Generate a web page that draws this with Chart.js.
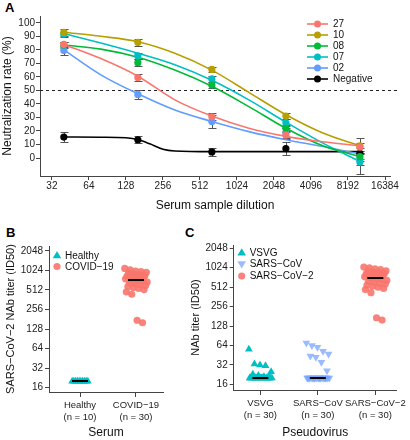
<!DOCTYPE html>
<html>
<head>
<meta charset="utf-8">
<script src="https://cdn.jsdelivr.net/npm/chart.js@4.4.1/dist/chart.umd.min.js"></script>
<style>
  body { margin: 0; background: #fff; width: 410px; height: 440px; position: relative; overflow: hidden; font-family: "Liberation Sans", Arial, sans-serif; }
  canvas { position: absolute; }
  .tag { position: absolute; font-weight: bold; font-size: 13px; line-height: 13px; color: #000; }
</style>
</head>
<body>
<div class="tag" style="left:5px;top:1px">A</div>
<div class="tag" style="left:6px;top:226px">B</div>
<div class="tag" style="left:185px;top:226px">C</div>
<canvas id="chartA" width="410" height="220" style="left:0;top:0"></canvas>
<canvas id="chartB" width="185" height="220" style="left:0;top:220px"></canvas>
<canvas id="chartC" width="225" height="220" style="left:185px;top:220px"></canvas>
<script>
// panel A: neutralization curves
const dilutions = [40, 160, 640, 2560, 10240];
const dilutionTicks = [32, 64, 128, 256, 512, 1024, 2048, 4096, 8192, 16384];
const rateTicks = [0, 10, 20, 30, 40, 50, 60, 70, 80, 90, 100];
const sera = ['27', '10', '08', '07', '02', 'Negative'];

const neut27 = [84, 59.5, 30.5, 17, 8];
const neut10 = [93, 85.5, 65.5, 31, 9];
const neut08 = [83.5, 70.5, 54, 22, 1];
const neut07 = [91.5, 75.5, 58.5, 26, -3];
const neut02 = [79.5, 47, 27, 18.5, -1];
const neutNeg = [15.5, 13.5, 4.5, 7, 3.5];

const err27 = [2, 2.5, 2.5, 3, 3];
const err10 = [2.5, 2.5, 2, 2.5, 5.5];
const err08 = [2.5, 2.5, 2.5, 2.5, 3];
const err07 = [2, 2.5, 2.5, 2.5, 8.5];
const err02 = [3.5, 3.5, 4.5, 3.5, 4];
const errNeg = [4, 2.5, 3, 4.5, 4];

// fitted curves
const fitDilutions = [40, 80, 160, 320, 640, 1280, 2560, 5120, 10240];
const fit27 = [84, 73.5, 60.5, 43, 31, 22, 16, 12, 9];
const fit10 = [93, 90, 86, 77.5, 65, 48.5, 32, 18.5, 9];
const fit08 = [83.5, 80.5, 74.5, 65, 53, 38, 22, 9, 1];
const fit07 = [92, 85, 77.5, 69, 57.5, 43, 26.5, 11, -2.5];
const fit02 = [80, 61.5, 47.5, 35.5, 27, 19.5, 13.5, 8.5, 3];
const fitNegDilutions = [40, 80, 128, 160, 200, 256, 320, 640, 1280, 2560, 5120, 10240];
const fitNeg = [15.5, 15.4, 15, 13.7, 10.5, 6.5, 5.2, 4.7, 4.7, 4.7, 4.7, 4.7];

// panel B: serum titers
const serumGroups = ['Healthy', 'COVID\u221219'];
const serumN = [10, 30];
const healthyTiter = [20, 20, 20, 20, 20, 20, 20, 20, 20, 20];
const covidTiter = [1100, 1050, 1000, 980, 960, 940, 900, 880, 860, 840, 820, 800, 780, 760, 740,
  720, 700, 680, 660, 640, 620, 600, 580, 560, 540, 520, 480, 440, 175, 160];

// panel C: pseudovirus titers
const viruses = ['VSVG', 'SARS\u2212CoV', 'SARS\u2212CoV\u22122'];
const virusN = [30, 30, 30];
const vsvgTiter = [56, 33, 32, 31, 25, 23, 22, 21, 20, 20, 20, 20, 20, 20, 20,
  20, 20, 20, 20, 20, 20, 20, 20, 20, 20, 20, 20, 20, 20, 20];
const sarsTiter = [70, 64, 60, 52, 47, 44, 42, 35, 26, 20, 20, 20, 20, 20, 20,
  20, 20, 20, 20, 20, 20, 20, 20, 20, 20, 20, 20, 20, 20, 20];
const sars2Titer = [1050, 1020, 980, 960, 920, 900, 880, 860, 840, 820, 800, 780, 760, 740, 720,
  690, 670, 650, 630, 610, 590, 570, 550, 530, 510, 490, 470, 420, 172, 158];
const titerTicks = [16, 32, 64, 128, 256, 512, 1024, 2048];

const FONT = "'Liberation Sans', Arial, sans-serif";
Chart.defaults.font.family = FONT;

const serumColors = ['#F8766D', '#B79F00', '#00BA38', '#00BFC4', '#619CFF', '#000000'];
const rates = [neut27, neut10, neut08, neut07, neut02, neutNeg];
const errs = [err27, err10, err08, err07, err02, errNeg];
const fits = [fit27, fit10, fit08, fit07, fit02, fitNeg];
const fitXs = [fitDilutions, fitDilutions, fitDilutions, fitDilutions, fitDilutions, fitNegDilutions];

const jit = (i, n, w) => n < 2 ? 0 : (((i * 7) % n) / (n - 1) - 0.5) * 2 * w;
const median = arr => {
  const s = [...arr].sort((a, b) => a - b);
  const m = Math.floor(s.length / 2);
  return s.length % 2 ? s[m] : (s[m - 1] + s[m]) / 2;
};

function drawMarker(ctx, style, x, y, r, color) {
  ctx.fillStyle = color;
  ctx.beginPath();
  if (style === 'circle') {
    ctx.arc(x, y, r, 0, Math.PI * 2);
  } else {
    const d = style === 'down' ? -1 : 1;
    ctx.moveTo(x, y - d * r);
    ctx.lineTo(x + r * 0.95, y + d * r * 0.6);
    ctx.lineTo(x - r * 0.95, y + d * r * 0.6);
    ctx.closePath();
  }
  ctx.fill();
}

const axisStyle = (extra) => Object.assign({
  grid: { drawOnChartArea: false, tickLength: 4, color: '#444' },
  border: { color: '#444', width: 1 },
}, extra);

// ---------- A ----------
const panelAPlugin = {
  id: 'panelA',
  beforeDatasetsDraw(chart) {
    const { ctx, chartArea, scales: { x, y } } = chart;
    ctx.save();
    // dashed 50% line
    ctx.strokeStyle = '#222';
    ctx.lineWidth = 1;
    ctx.setLineDash([3, 3]);
    ctx.beginPath();
    const y50 = Math.round(y.getPixelForValue(50)) + 0.5;
    ctx.moveTo(chartArea.left, y50);
    ctx.lineTo(chartArea.right + 10, y50);
    ctx.stroke();
    ctx.setLineDash([]);
    // error bars
    ctx.strokeStyle = '#555';
    rates.forEach((vals, s) => {
      vals.forEach((v, i) => {
        const px = Math.round(x.getPixelForValue(dilutions[i])) + 0.5;
        const t = Math.round(y.getPixelForValue(v + errs[s][i])) + 0.5;
        const b = Math.round(y.getPixelForValue(v - errs[s][i])) + 0.5;
        ctx.beginPath();
        ctx.moveTo(px, t); ctx.lineTo(px, b);
        ctx.moveTo(px - 4, t); ctx.lineTo(px + 4, t);
        ctx.moveTo(px - 4, b); ctx.lineTo(px + 4, b);
        ctx.stroke();
      });
    });
    ctx.restore();
  },
  afterDraw(chart) {
    const { ctx } = chart;
    ctx.save();
    ctx.font = '10px ' + FONT;
    ctx.textBaseline = 'middle';
    sera.forEach((name, s) => {
      const yy = 24 + s * 11;
      ctx.strokeStyle = serumColors[s];
      ctx.lineWidth = 1.6;
      ctx.beginPath();
      ctx.moveTo(307, yy); ctx.lineTo(328, yy);
      ctx.stroke();
      drawMarker(ctx, 'circle', 317.5, yy, 3.5, serumColors[s]);
      ctx.fillStyle = '#111';
      ctx.fillText(name, 333, yy + 0.5);
    });
    ctx.restore();
  }
};

const pointSets = sera.map((name, s) => ({
  label: name,
  data: dilutions.map((d, i) => ({ x: d, y: rates[s][i] })),
  showLine: false,
  pointRadius: 3.6,
  pointBackgroundColor: serumColors[s],
  pointBorderWidth: 0,
}));
const curveSets = sera.map((name, s) => ({
  label: name + ' fit',
  data: fitXs[s].map((d, i) => ({ x: d, y: fits[s][i] })),
  borderColor: serumColors[s],
  borderWidth: 1.6,
  pointRadius: 0,
  cubicInterpolationMode: 'monotone',
  fill: false,
}));

new Chart(document.getElementById('chartA'), {
  type: 'line',
  data: { datasets: [...pointSets, ...curveSets] },
  options: {
    responsive: false, animation: false, devicePixelRatio: 1,
    layout: { padding: { top: 16, right: 20, left: 0, bottom: 0 } },
    plugins: { legend: { display: false }, tooltip: { enabled: false } },
    scales: {
      x: axisStyle({
        type: 'logarithmic', min: 25.6, max: 17990,
        afterBuildTicks: s => { s.ticks = dilutionTicks.map(v => ({ value: v })); },
        afterFit: s => { s.height = 44; },
        ticks: { callback: v => String(v), autoSkip: false, maxRotation: 0, padding: 0, color: '#222', font: { size: 10 } },
        title: { display: true, text: 'Serum sample dilution', color: '#111', font: { size: 12 }, padding: { top: 0, bottom: 7 } },
      }),
      y: axisStyle({
        type: 'linear', min: -13.3, max: 105,
        afterBuildTicks: s => { s.ticks = rateTicks.map(v => ({ value: v })); },
        afterFit: s => { s.width = 40; },
        ticks: { color: '#222', padding: 1, font: { size: 10 } },
        title: { display: true, text: 'Neutralization rate (%)', color: '#111', font: { size: 12 }, padding: { top: 0, bottom: 0 } },
      }),
    },
  },
  plugins: [panelAPlugin],
});

// ---------- B and C ----------
function titerPlugin(groups, legendItems) {
  return {
    id: 'titer',
    afterDatasetsDraw(chart) {
      const { ctx, scales: { x, y } } = chart;
      ctx.save();
      ctx.strokeStyle = '#000';
      ctx.lineWidth = 2;
      groups.forEach((vals, g) => {
        const cx = x.getPixelForValue(g + 1);
        const my = Math.round(y.getPixelForValue(median(vals)));
        ctx.beginPath();
        ctx.moveTo(cx - 8, my); ctx.lineTo(cx + 8, my);
        ctx.stroke();
      });
      ctx.restore();
    },
    afterDraw(chart) {
      const { ctx } = chart;
      ctx.save();
      ctx.font = '10px ' + FONT;
      ctx.textBaseline = 'middle';
      legendItems.forEach(it => {
        drawMarker(ctx, it.style, it.x, it.y, it.r, it.color);
        ctx.fillStyle = '#111';
        ctx.fillText(it.label, it.x + 8, it.y + 0.5);
      });
      ctx.restore();
    }
  };
}

function titerOptions(xMin, xMax, labels, counts, xTitle, yTitle, yMin, yMax, yWidth, xHeight, padRight) {
  return {
    responsive: false, animation: false, devicePixelRatio: 1,
    layout: { padding: { top: yMax.top, right: padRight, left: 0, bottom: 0 } },
    plugins: { legend: { display: false }, tooltip: { enabled: false } },
    scales: {
      x: axisStyle({
        type: 'linear', min: xMin, max: xMax,
        grid: { drawOnChartArea: false, tickLength: 5, color: '#444' },
        afterBuildTicks: s => { s.ticks = labels.map((l, i) => ({ value: i + 1 })); },
        afterFit: s => { s.height = xHeight; },
        ticks: {
          callback: v => [labels[v - 1], '(n = ' + counts[v - 1] + ')'],
          autoSkip: false, maxRotation: 0, padding: 3, color: '#222', font: { size: 9.5 },
        },
        title: { display: true, text: xTitle, color: '#111', font: { size: 12 }, padding: { top: 0, bottom: 0 } },
      }),
      y: axisStyle({
        type: 'logarithmic', min: yMin, max: yMax.value,
        afterBuildTicks: s => { s.ticks = titerTicks.map(v => ({ value: v })); },
        afterFit: s => { s.width = yWidth; },
        ticks: { callback: v => String(v), padding: 2, color: '#222', font: { size: 10 } },
        title: { display: true, text: yTitle, color: '#111', font: { size: 11 }, padding: { top: 4, bottom: 0 } },
      }),
    },
  };
}

const cyan = '#00BFC4';
const salmon = 'rgba(248,118,109,0.9)';
const lightBlue = 'rgba(120,165,255,0.75)';

const scatterSet = (vals, center, w, style, color, r) => ({
  data: vals.map((v, i) => ({ x: center + jit(i, vals.length, w), y: v })),
  pointStyle: style === 'circle' ? 'circle' : 'triangle',
  rotation: style === 'down' ? 180 : 0,
  pointRadius: r,
  pointBackgroundColor: color,
  pointBorderWidth: 0,
});

new Chart(document.getElementById('chartB'), {
  type: 'scatter',
  data: {
    datasets: [
      scatterSet(healthyTiter, 1, 0.14, 'up', cyan, 4.5),
      scatterSet(covidTiter, 2, 0.2, 'circle', salmon, 3.6),
    ],
  },
  options: titerOptions(0.446, 2.483, serumGroups, serumN, 'Serum', 'SARS\u2212CoV\u22122 NAb titer (ID50)',
    13.7, { value: 2440, top: 26 }, 49, 48, 22),
  plugins: [titerPlugin([healthyTiter, covidTiter], [
    { label: 'Healthy', style: 'up', x: 57, y: 35.5, r: 4.5, color: cyan },
    { label: 'COVID\u221219', style: 'circle', x: 57, y: 46.5, r: 3.6, color: salmon },
  ])],
});

new Chart(document.getElementById('chartC'), {
  type: 'scatter',
  data: {
    datasets: [
      scatterSet(vsvgTiter, 1, 0.2, 'up', cyan, 4.5),
      scatterSet(sarsTiter, 2, 0.2, 'down', lightBlue, 4.5),
      scatterSet(sars2Titer, 3, 0.2, 'circle', salmon, 3.6),
    ],
  },
  options: titerOptions(0.536, 3.37, viruses, virusN, 'Pseudovirus', 'NAb titer (ID50)',
    13.06, { value: 2304, top: 25 }, 48.7, 50, 10),
  plugins: [titerPlugin([vsvgTiter, sarsTiter, sars2Titer], [
    { label: 'VSVG', style: 'up', x: 56.7, y: 32.7, r: 4.5, color: cyan },
    { label: 'SARS\u2212CoV', style: 'down', x: 56.7, y: 44, r: 4.5, color: lightBlue },
    { label: 'SARS\u2212CoV\u22122', style: 'circle', x: 56.7, y: 56, r: 3.6, color: salmon },
  ])],
});
</script>
</body>
</html>
